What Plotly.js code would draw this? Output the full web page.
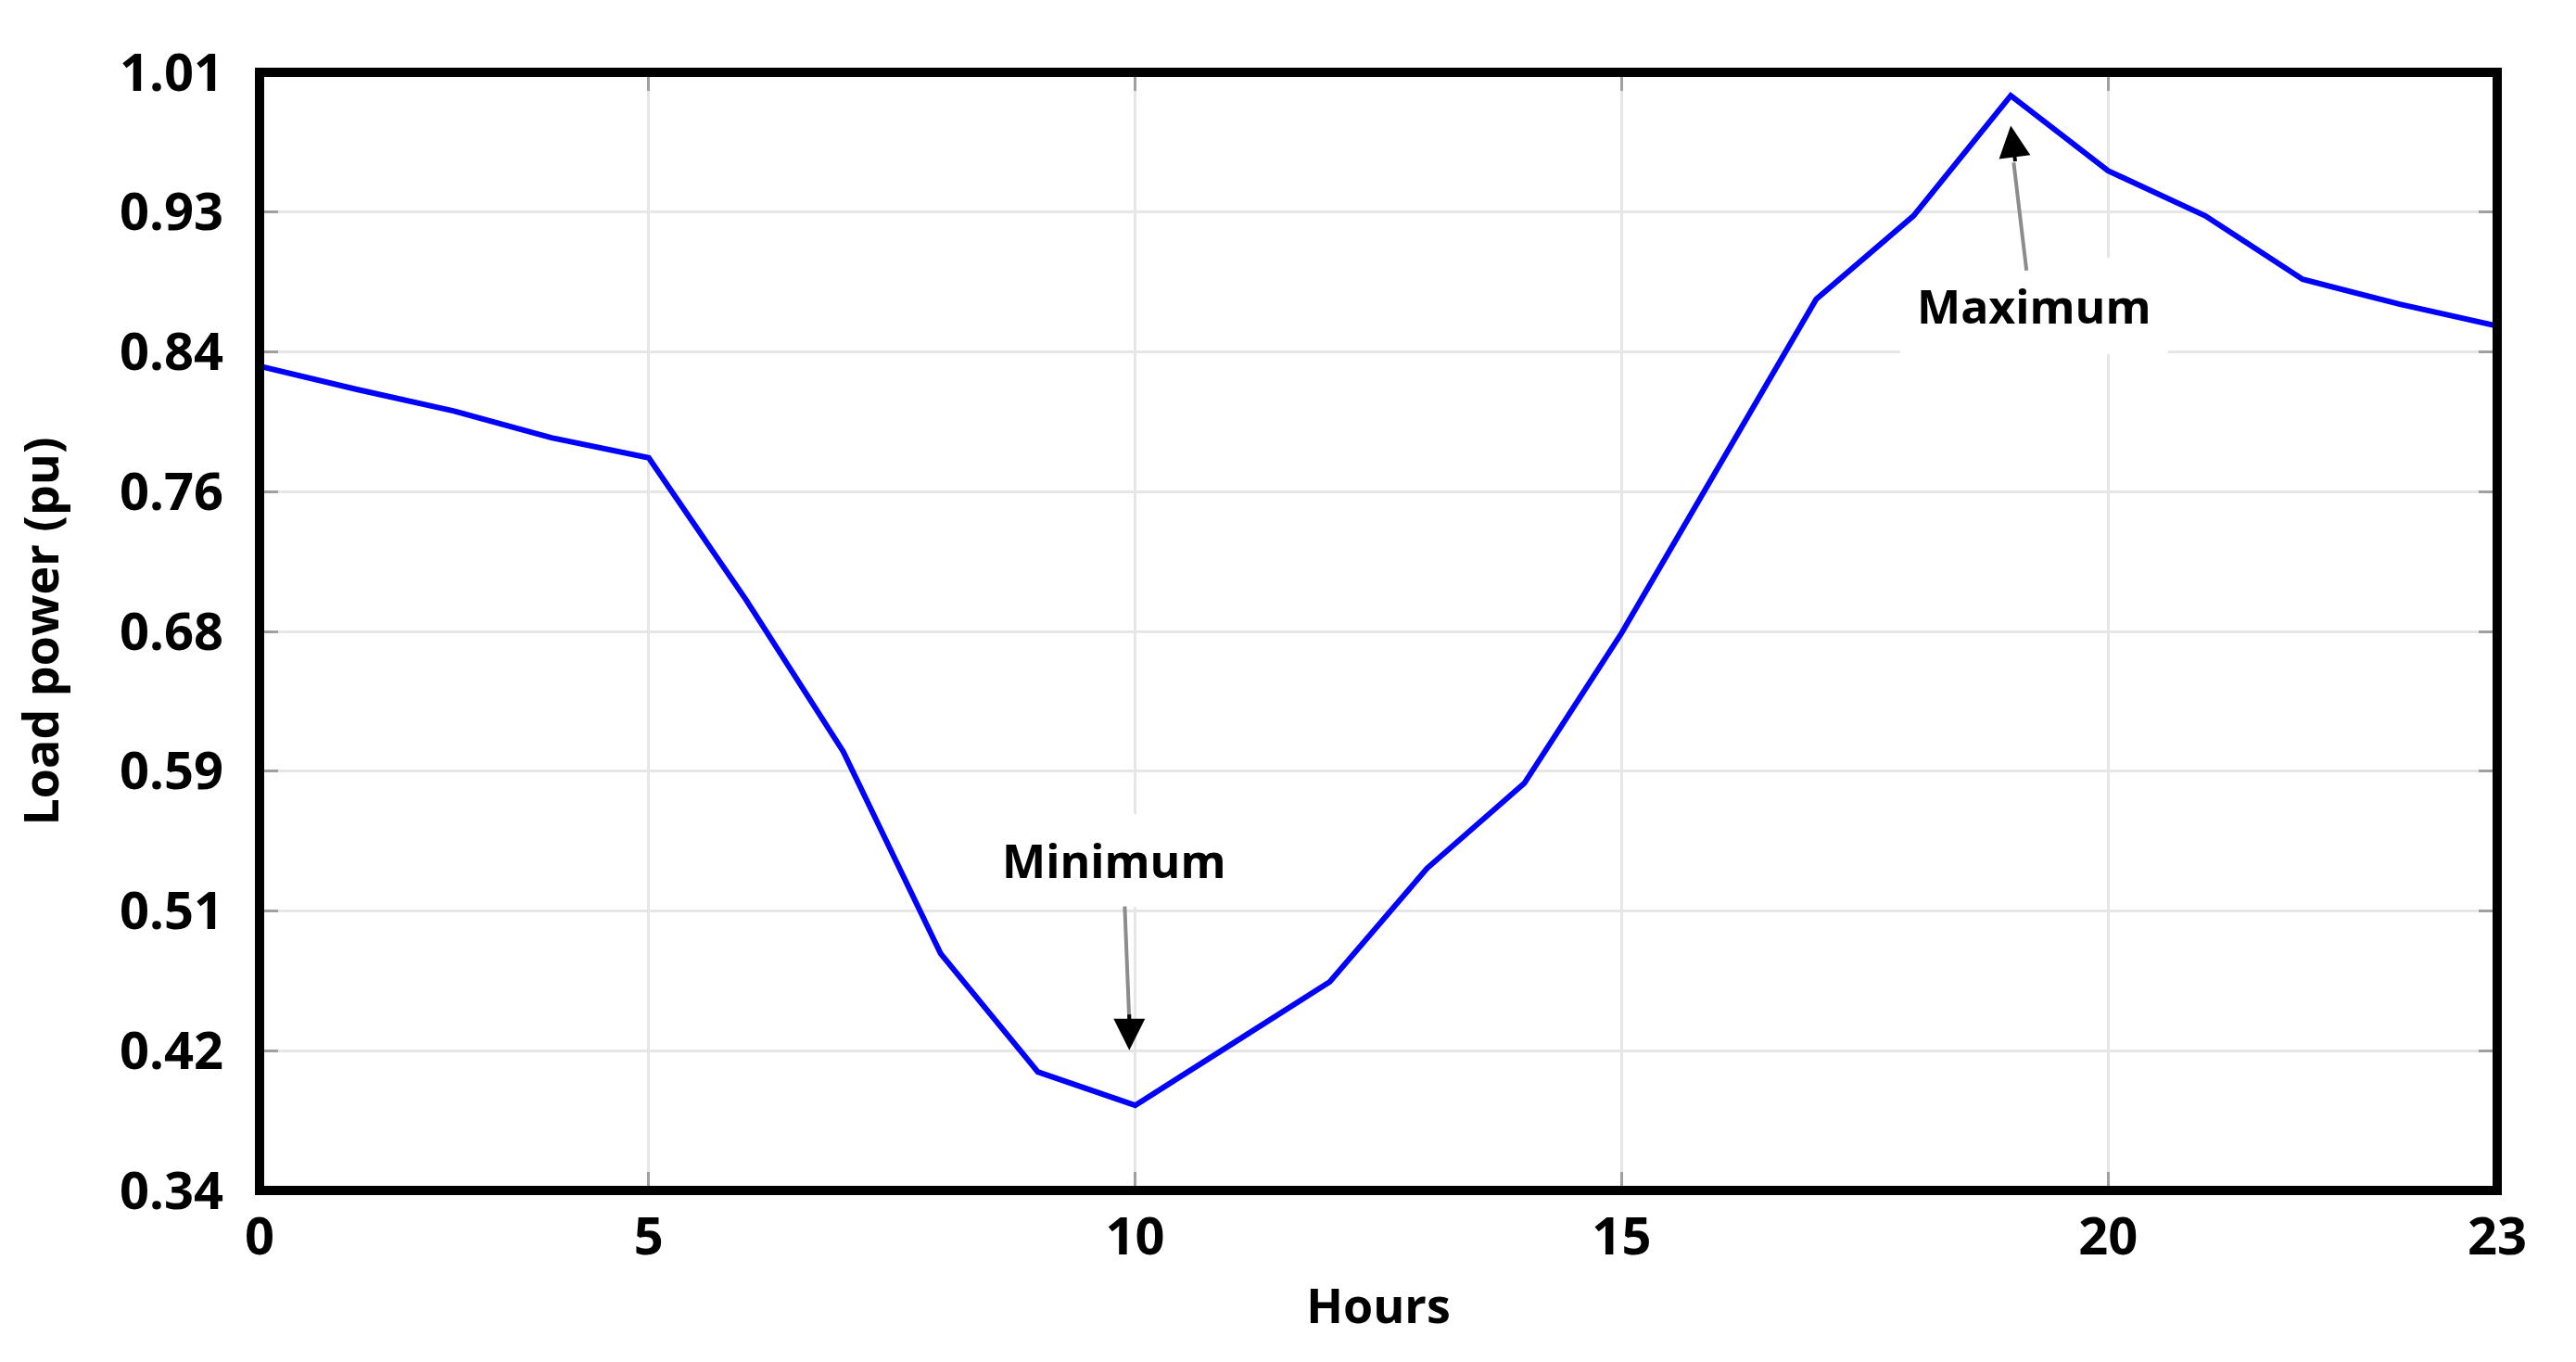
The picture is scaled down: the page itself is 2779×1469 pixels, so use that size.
<!DOCTYPE html>
<html>
<head>
<meta charset="utf-8">
<script src="https://cdn.plot.ly/plotly-3.0.1.min.js"></script>
<style>
  html, body { margin: 0; padding: 0; background: #ffffff; }
  #chart { width: 2779px; height: 1469px; }
</style>
</head>
<body>
<div id="chart"></div>
<script>
// ---- Data ----
const hours = [1, 2, 3, 4, 5, 6, 7, 8, 9, 10, 11, 12, 13, 14, 15, 16, 17, 18, 19, 20, 21, 22, 23, 24];
const loadPu = [0.834, 0.820, 0.807, 0.791, 0.779, 0.694, 0.603, 0.482, 0.411, 0.391, 0.428, 0.465,
                0.533, 0.584, 0.674, 0.774, 0.874, 0.924, 0.996, 0.951, 0.924, 0.886, 0.871, 0.858];

const xTickVals = [1, 5, 10, 15, 20, 24];
const xTickText = ['0', '5', '10', '15', '20', '23'];
const yTickVals = [0.34, 0.42375, 0.5075, 0.59125, 0.675, 0.75875, 0.8425, 0.92625, 1.01];
const yTickText = ['0.34', '0.42', '0.51', '0.59', '0.68', '0.76', '0.84', '0.93', '1.01'];

const minLabel = 'Minimum';
const maxLabel = 'Maximum';

// ---- Styling ----
const FONT = 'Open Sans, Noto Sans, sans-serif';
const tickFont = { family: FONT, size: 56, color: '#000000', weight: 'bold' };
const titleFont = { family: FONT, size: 52, color: '#000000', weight: 'bold' };
const annFont = { family: FONT, size: 50, color: '#000000', weight: 'bold' };

const iMin = loadPu.indexOf(Math.min(...loadPu));
const iMax = loadPu.indexOf(Math.max(...loadPu));

const trace = {
  type: 'scatter',
  mode: 'lines',
  x: hours,
  y: loadPu,
  line: { color: '#0000ff', width: 6 },
  hoverinfo: 'skip',
  showlegend: false
};

const axisCommon = {
  showgrid: true,
  gridcolor: '#e6e6e6',
  gridwidth: 3,
  zeroline: false,
  showline: false,
  ticks: 'inside',
  ticklen: 20,
  tickwidth: 3,
  tickcolor: '#a0a0a0',
  mirror: 'ticks',
  tickfont: tickFont
};

const layout = {
  width: 2779,
  height: 1469,
  margin: { l: 280, r: 85, t: 78, b: 185, pad: 0 },
  paper_bgcolor: '#ffffff',
  plot_bgcolor: '#ffffff',
  showlegend: false,
  xaxis: Object.assign({}, axisCommon, {
    range: [hours[0], hours[hours.length - 1]],
    tickmode: 'array',
    tickvals: xTickVals,
    ticktext: xTickText,
    ticklabelstandoff: 12,
    title: { text: 'Hours', font: titleFont, standoff: 22 }
  }),
  yaxis: Object.assign({}, axisCommon, {
    range: [yTickVals[0], yTickVals[yTickVals.length - 1]],
    tickmode: 'array',
    tickvals: yTickVals,
    ticktext: yTickText,
    ticklabelstandoff: 38,
    title: { text: 'Load power (pu)', font: titleFont, standoff: 48 }
  }),
  shapes: [
    { type: 'rect', xref: 'paper', yref: 'paper', x0: 0, x1: 1, y0: 0, y1: 1,
      line: { color: '#000000', width: 10 }, fillcolor: 'rgba(0,0,0,0)', layer: 'above' }
  ],
  annotations: [
    // Minimum: label box
    { xref: 'x', yref: 'y', x: hours[iMin] - 0.22, y: loadPu[iMin] + 0.147,
      text: minLabel, showarrow: false, font: annFont,
      bgcolor: '#ffffff', borderpad: 16, borderwidth: 0 },
    // Minimum: grey shaft
    { xref: 'x', yref: 'y', x: hours[iMin] - 0.06, y: loadPu[iMin] + 0.050,
      text: '', showarrow: true, arrowhead: 0, arrowwidth: 4, arrowcolor: '#8c8c8c',
      ax: -5, ay: -126, standoff: 0, startstandoff: 0 },
    // Minimum: black head
    { xref: 'x', yref: 'y', x: hours[iMin] - 0.06, y: loadPu[iMin] + 0.033,
      text: '', showarrow: true, arrowhead: 2, arrowsize: 1.7, arrowwidth: 4, arrowcolor: '#000000',
      ax: 0, ay: -40, standoff: 0, startstandoff: 0 },
    // Maximum: label box
    { xref: 'x', yref: 'y', x: hours[iMax] + 0.24, y: loadPu[iMax] - 0.126,
      text: maxLabel, showarrow: false, font: annFont,
      bgcolor: '#ffffff', borderpad: 18, borderwidth: 0 },
    // Maximum: grey shaft
    { xref: 'x', yref: 'y', x: hours[iMax] + 0.03, y: loadPu[iMax] - 0.040,
      text: '', showarrow: true, arrowhead: 0, arrowwidth: 4, arrowcolor: '#8c8c8c',
      ax: 14, ay: 118, standoff: 0, startstandoff: 0 },
    // Maximum: black head
    { xref: 'x', yref: 'y', x: hours[iMax], y: loadPu[iMax] - 0.018,
      text: '', showarrow: true, arrowhead: 2, arrowsize: 1.7, arrowwidth: 4, arrowcolor: '#000000',
      ax: 5, ay: 40, standoff: 0, startstandoff: 0 }
  ]
};

Plotly.newPlot('chart', [trace], layout, { displayModeBar: false, staticPlot: true });
</script>
</body>
</html>
